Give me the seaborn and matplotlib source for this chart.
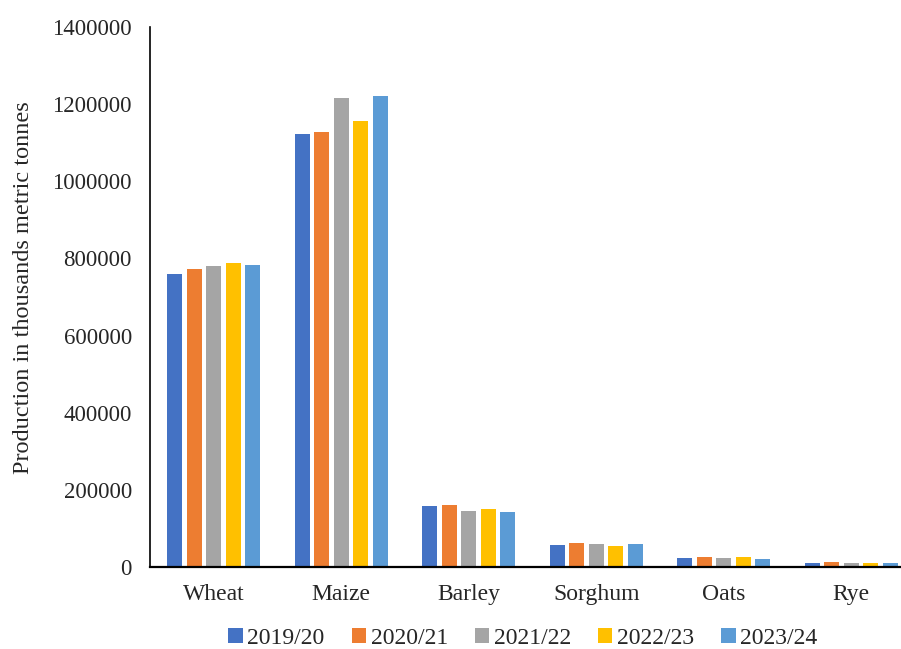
import matplotlib
matplotlib.use('Agg')
import pandas as pd
import matplotlib.pyplot as plt
import seaborn as sns

crops = ['Wheat', 'Maize', 'Barley', 'Sorghum', 'Oats', 'Rye']
years = ['2019/20', '2020/21', '2021/22', '2022/23', '2023/24']

p_2019 = [759000, 1122000, 159000, 56000, 22500, 11000]
p_2020 = [773000, 1129000, 161000, 61500, 25000, 13500]
p_2021 = [780000, 1215000, 145000, 59500, 22500, 11000]
p_2022 = [789000, 1156000, 150500, 53500, 25000, 11000]
p_2023 = [783000, 1221000, 143000, 59000, 20000, 11000]

colors = ['#4472C4', '#ED7D31', '#A5A5A5', '#FFC000', '#5B9BD5']

rows = []
for yr, vals in zip(years, [p_2019, p_2020, p_2021, p_2022, p_2023]):
    for c, v in zip(crops, vals):
        rows.append({'Crop': c, 'Year': yr, 'Production': v})
df = pd.DataFrame(rows)

sns.set_style('white')
plt.rcParams['font.family'] = ['Liberation Serif', 'DejaVu Serif']

fig = plt.figure(figsize=(9.01, 6.49), dpi=100)
ax = fig.add_axes([150/901, 82/649, 765/901, 540/649])

sns.barplot(data=df, x='Crop', y='Production', hue='Year', palette=colors,
            width=0.765, gap=0.22, ax=ax, saturation=1, edgecolor='none')

ax.set_ylim(0, 1400000)
ax.set_xlim(-0.5, 5.5)
ax.set_yticks(range(0, 1400001, 200000))
ax.set_yticklabels([str(v) for v in range(0, 1400001, 200000)], fontsize=16.5)
ax.tick_params(axis='x', labelsize=17, length=0, pad=12)
ax.tick_params(axis='y', length=0, pad=13)
ax.set_xlabel('')
ax.set_ylabel('Production in thousands metric tonnes', fontsize=17.5)
ax.yaxis.set_label_coords(-0.152, 0.518)

for s in ['top', 'right']:
    ax.spines[s].set_visible(False)
ax.spines['left'].set_color('black')
ax.spines['bottom'].set_color('black')
ax.spines['left'].set_linewidth(1.2)
ax.spines['bottom'].set_linewidth(1.6)

ax.legend(loc='center', bbox_to_anchor=(523/901, 1 - 638/649), bbox_transform=fig.transFigure,
          ncol=5, frameon=False, fontsize=17, handlelength=0.6, handleheight=0.6,
          handletextpad=0.2, columnspacing=1.15)

plt.savefig('out.png', dpi=100)
